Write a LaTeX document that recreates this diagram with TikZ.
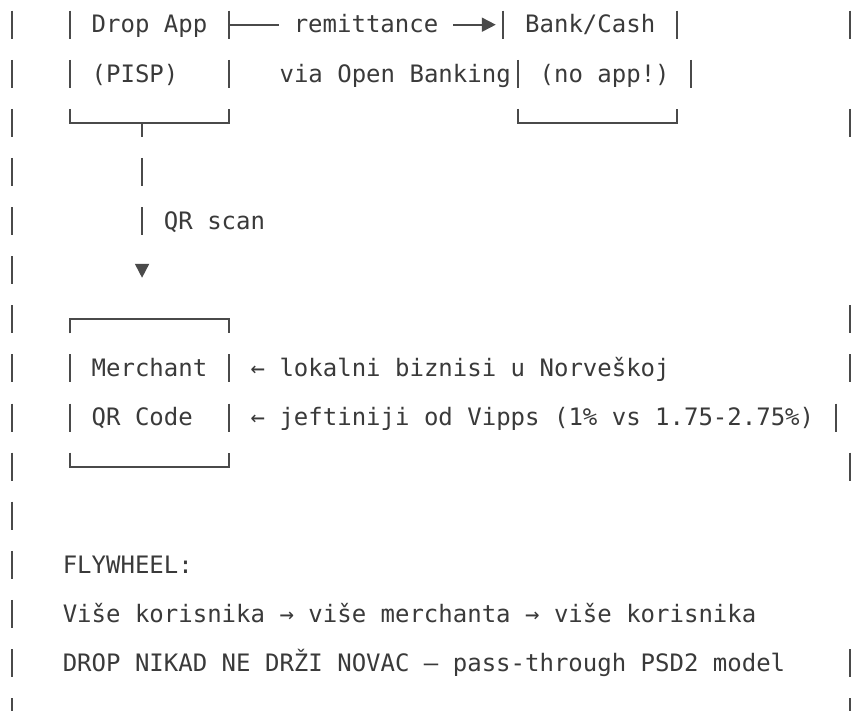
\documentclass[tikz,border=0pt]{standalone}
\usepackage{fontspec}
\newfontfamily\dmono{DejaVu Sans Mono}
\usetikzlibrary{arrows.meta}
\definecolor{inkc}{HTML}{3A3A3A}
\definecolor{rulec}{HTML}{4A4A4A}
\tikzset{
  lbl/.style={inner sep=0pt, anchor=base west, text=inkc, font=\dmono\fontsize{24}{28}\selectfont},
  onlbl/.style={inner xsep=15pt, inner ysep=2pt, fill=white, anchor=base, text=inkc, font=\dmono\fontsize{24}{28}\selectfont},
  glyph/.style={draw=rulec, line width=1.8pt, line cap=butt},
  area/.style={draw=none, inner sep=0pt, rectangle},
  flow/.style={draw=rulec, line width=1.8pt, -{Triangle[length=14pt,width=14pt]}},
}
% vertical glyph segment in column #1, row #2
\newcommand\VS[2]{\draw[glyph] ({12+14.45*#1},{33+49.1*(#2-1)-22.3}) -- ++(0,28);}
% text starting at column #2, baseline of row #3
\newcommand\TX[4]{\node[lbl] (#1) at ({4.8+14.45*#2},{33+49.1*(#3-1)}) {#4};}
\begin{document}
\begin{tikzpicture}[x=1pt,y=-1pt]
\useasboundingbox (0,0) rectangle (857,711);
\fill[white] (0,0) rectangle (857,711);
\clip (0,0) rectangle (857,711);

% box areas (named)
\node[area, minimum width=158.95pt, minimum height=142.9pt] (drop) at (149.28,51.45) {};
\node[area, minimum width=173.4pt, minimum height=142.9pt] (bank) at (590.0,51.45) {};
\node[area, minimum width=158.95pt, minimum height=147.3pt] (merch) at (149.28,392.95) {};
\coordinate (r1m) at (0,24.7);
\coordinate (tee) at ({12+14.45*9},122.9);

% outer border
\foreach \r in {1,...,15} {\VS{0}{\r}}
\foreach \r in {1,3,7,8,10,14,15} {\VS{58}{\r}}
\VS{57}{9}

% Drop App box
\VS{4}{1}\VS{4}{2}\VS{15}{1}\VS{15}{2}
\draw[glyph] ({12+14.45*4},108.9) -- ({12+14.45*4},122.9) -- ({12+14.45*15},122.9) -- ({12+14.45*15},108.9);

% Bank/Cash box
\VS{34}{1}\VS{46}{1}\VS{35}{2}\VS{47}{2}
\draw[glyph] ({12+14.45*35},108.9) -- ({12+14.45*35},122.9) -- ({12+14.45*46},122.9) -- ({12+14.45*46},108.9);

% Merchant box
\draw[glyph] ({12+14.45*4},333.3) -- ({12+14.45*4},319.3) -- ({12+14.45*15},319.3) -- ({12+14.45*15},333.3);
\VS{4}{8}\VS{4}{9}\VS{15}{8}\VS{15}{9}
\draw[glyph] ({12+14.45*4},452.6) -- ({12+14.45*4},466.6) -- ({12+14.45*15},466.6) -- ({12+14.45*15},452.6);

% connectors
\draw[flow, shorten >=7.3pt] (drop.east |- r1m) -- node[onlbl, midway, yshift=-8.3pt] (remit) {remittance} (bank.west |- r1m);
\draw[flow, dash pattern=on 14pt off 21.1pt on 28pt off 21.1pt on 28pt off 300pt, shorten >=41.3pt] (tee) -- (tee |- merch.north);

% texts
\TX{dropA}{6}{1}{Drop App}
\TX{dropB}{6}{2}{(PISP)}
\TX{via}{19}{2}{via Open Banking}
\TX{bankA}{36}{1}{Bank/Cash}
\TX{bankB}{37}{2}{(no app!)}
\TX{qrs}{11}{5}{QR scan}
\TX{merA}{6}{8}{Merchant}
\TX{merB}{6}{9}{QR Code}
\TX{noteA}{17}{8}{← lokalni biznisi u Norveškoj}
\TX{noteB}{17}{9}{← jeftiniji od Vipps (1\% vs 1.75-2.75\%)}
\TX{fly}{4}{12}{FLYWHEEL:}
\TX{flyA}{4}{13}{Više korisnika → više merchanta → više korisnika}
\TX{flyB}{4}{14}{DROP NIKAD NE DRŽI NOVAC — pass-through PSD2 model}
\end{tikzpicture}
\end{document}
